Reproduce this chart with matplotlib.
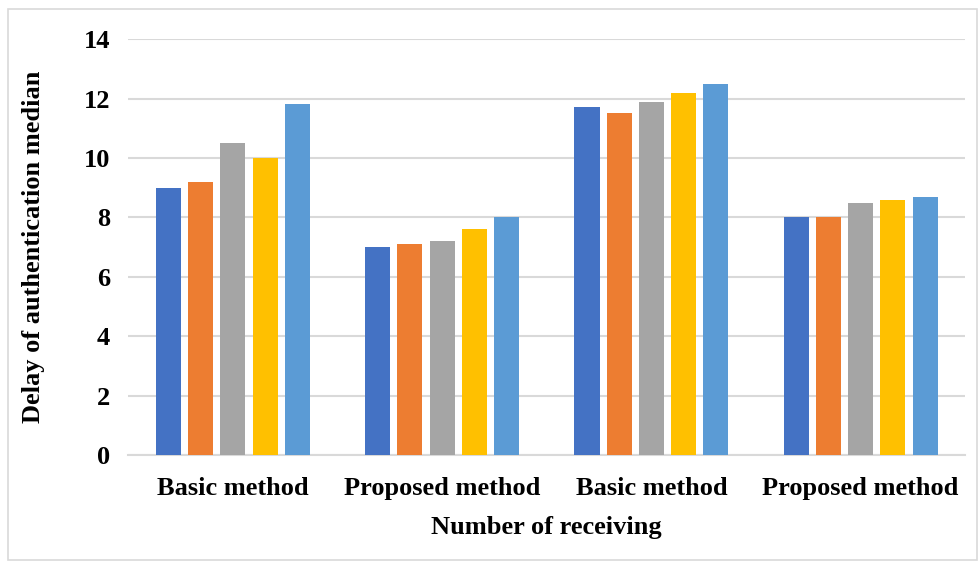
import matplotlib.pyplot as plt
import numpy as np
from matplotlib.patches import Rectangle

# values
categories = ["Basic method", "Proposed method", "Basic method", "Proposed method"]
series_1 = [9.0, 7.0, 11.7, 8.0]
series_2 = [9.2, 7.1, 11.5, 8.0]
series_3 = [10.5, 7.2, 11.9, 8.5]
series_4 = [10.0, 7.6, 12.2, 8.6]
series_5 = [11.8, 8.0, 12.5, 8.7]
colors = ["#4472C4", "#ED7D31", "#A5A5A5", "#FFC000", "#5B9BD5"]

plt.rcParams["font.family"] = ["Liberation Serif", "DejaVu Serif"]
plt.rcParams["font.weight"] = "bold"

fig = plt.figure(figsize=(9.79, 5.67), dpi=100)
ax = fig.add_axes([0.131, 0.1975, 0.855, 0.7335])

x = np.arange(len(categories))
width = 0.12
pitch = 0.154
all_series = [series_1, series_2, series_3, series_4, series_5]
for i, (vals, c) in enumerate(zip(all_series, colors)):
    ax.bar(x + (i - 2) * pitch, vals, width, color=c, zorder=3)

ax.set_xlim(-0.5, 3.5)
ax.set_ylim(0, 14)
ax.set_yticks(range(0, 15, 2))
ax.set_xticks(x)
ax.set_xticklabels(categories)
ax.tick_params(length=0, labelsize=19)
ax.tick_params(axis="x", pad=16)
ax.tick_params(axis="y", pad=13)
ax.grid(axis="y", color="#d9d9d9", linewidth=1.5, zorder=0)
for s in ["top", "right", "left"]:
    ax.spines[s].set_visible(False)
ax.spines["bottom"].set_color("#d9d9d9")
ax.spines["bottom"].set_linewidth(1.5)

ax.set_xlabel("Number of receiving", fontsize=19, fontweight="bold", labelpad=11)
ax.set_ylabel("Delay of authentication median", fontsize=19, fontweight="bold", labelpad=28)

fig.patches.append(Rectangle((0.008, 0.012), 0.99, 0.972, transform=fig.transFigure,
                             fill=False, edgecolor="#d9d9d9", linewidth=1.2))

fig.savefig("out.png", dpi=100)
